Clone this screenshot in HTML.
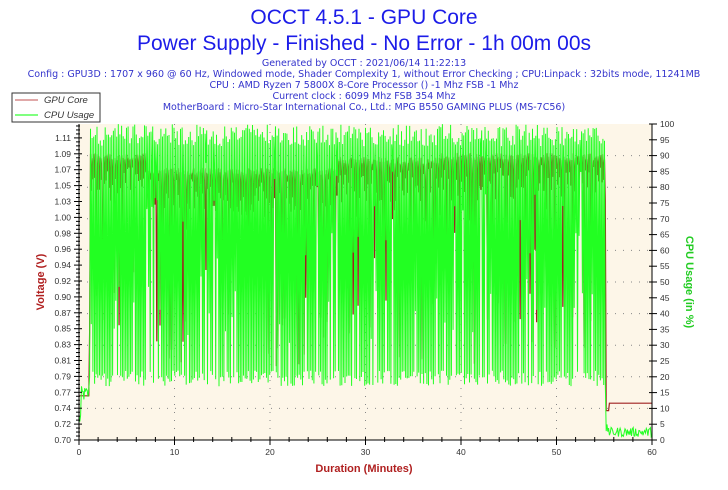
<!DOCTYPE html>
<html><head><meta charset="utf-8"><style>
body{margin:0;background:#fff;width:728px;height:485px;overflow:hidden;font-family:"Liberation Sans","DejaVu Sans",sans-serif}
</style></head><body>
<svg id="s" width="728" height="485" xmlns="http://www.w3.org/2000/svg" font-family="Liberation Sans, DejaVu Sans, sans-serif">
<text x="364" y="24" text-anchor="middle" font-size="21" fill="#1c1ce8">OCCT 4.5.1 - GPU Core</text>
<text x="364" y="50" text-anchor="middle" font-size="21" fill="#1c1ce8">Power Supply - Finished - No Error - 1h 00m 00s</text>
<g font-size="9.5" fill="#3333cc" text-anchor="middle" font-family="DejaVu Sans, sans-serif">
<text x="364" y="66">Generated by OCCT : 2021/06/14 11:22:13</text>
<text x="364" y="77">Config : GPU3D : 1707 x 960 @ 60 Hz, Windowed mode, Shader Complexity 1, without Error Checking ; CPU:Linpack : 32bits mode, 11241MB</text>
<text x="364" y="88">CPU : AMD Ryzen 7 5800X 8-Core Processor () -1 Mhz FSB -1 Mhz</text>
<text x="364" y="99">Current clock : 6099 Mhz FSB 354 Mhz</text>
<text x="364" y="110">MotherBoard : Micro-Star International Co., Ltd.: MPG B550 GAMING PLUS (MS-7C56)</text>
</g>
<rect x="79" y="124" width="573" height="316" fill="#fdf6e8"/>
<g id="grid"></g>
<g id="data"></g>
<rect x="12" y="93" width="88" height="29" fill="#fff" stroke="#333" stroke-width="1"/>
<line x1="15" y1="100" x2="38" y2="100" stroke="#c05050"/>
<line x1="15" y1="115" x2="38" y2="115" stroke="#00ff00"/>
<g font-size="9.5" font-style="italic" fill="#333"><text x="44" y="103">GPU Core</text><text x="44" y="118">CPU Usage</text></g>
<g id="axes" stroke="#000" fill="none"></g>
<g id="lab" font-size="8.5" fill="#333"></g>
<text x="364" y="472" text-anchor="middle" font-size="11" font-weight="bold" fill="#b02020">Duration (Minutes)</text>
<text transform="translate(44,282) rotate(-90)" text-anchor="middle" font-size="11" font-weight="bold" fill="#b02020">Voltage (V)</text>
<text transform="translate(686,282) rotate(90)" text-anchor="middle" font-size="11" font-weight="bold" fill="#22cc22">CPU Usage (in %)</text>
</svg>
<script>
var NS="http://www.w3.org/2000/svg";
function el(p,t,a,txt){var e=document.createElementNS(NS,t);for(var k in a)e.setAttribute(k,a[k]);if(txt!=null)e.textContent=txt;document.getElementById(p).appendChild(e);return e;}
var L=79,R=652,T=124,B=440;
function X(m){return L+(R-L)*m/60;}
function YP(p){return B-(B-T)*p/100;}
function YV(v){return B-(v-0.70)/0.0216*15.9;}
for(var p=10;p<100;p+=10)el("grid","line",{x1:L,x2:R,y1:YP(p),y2:YP(p),stroke:"#888","stroke-dasharray":"1,7","stroke-width":1});
for(var m=10;m<60;m+=10)el("grid","line",{x1:X(m),x2:X(m),y1:T,y2:B,stroke:"#888","stroke-dasharray":"1,7","stroke-width":1});
var seed=12345;function rnd(){seed=(seed*1103515245+12345)%2147483648;return seed/2147483648;}
var g=[],r=[];
var N=700;
for(var i=0;i<=N;i++){var m=60*i/N,c,v;
 if(m<0.2){c=4+rnd()*6;v=0.76;}
 else if(m<1.1){c=12+rnd()*5;v=0.76;}
 else if(m<55.2){
  if(i%2==0){c=93+rnd()*7;}else{c=rnd()<0.8?17+rnd()*5:30+rnd()*60;}
  var base=(m>7&&m<28)?1.06:1.08;
  if(m>27&&m<38)base=1.075;
  v=(i%2==0)?base+rnd()*0.01:(rnd()<0.3?0.80+rnd()*0.22:base-0.005-rnd()*0.05);
 }
 else if(m<55.5){c=2+rnd()*3;v=0.74;}
 else{c=1+rnd()*3;v=0.75;}
 g.push(X(m).toFixed(1)+","+YP(c).toFixed(1));r.push(X(m).toFixed(1)+","+YV(v).toFixed(1));}
el("data","polyline",{points:r.join(" "),fill:"none",stroke:"#a02020","stroke-width":1.2});
el("data","polyline",{points:g.join(" "),fill:"none",stroke:"#22ff22","stroke-width":1});
el("axes","line",{x1:L,x2:L,y1:T,y2:B+4});el("axes","line",{x1:R,x2:R,y1:T,y2:B+4});el("axes","line",{x1:L-4,x2:R+4,y1:B,y2:B});
var vl=["0.70","0.72","0.74","0.77","0.79","0.81","0.83","0.85","0.87","0.90","0.92","0.94","0.96","0.98","1.00","1.03","1.05","1.07","1.09","1.11"];
for(var k=0;k<vl.length;k++){var y=B-k*15.9;el("axes","line",{x1:L-5,x2:L+3,y1:y,y2:y});el("lab","text",{x:L-8,y:y+3,"text-anchor":"end"},vl[k]);
 for(var j=1;j<4;j++){var yy=y-j*15.9/4;if(yy>T)el("axes","line",{x1:L-3,x2:L+1,y1:yy,y2:yy});}}
for(var p=0;p<=100;p+=5){var y=YP(p);el("axes","line",{x1:R-3,x2:R+5,y1:y,y2:y});el("lab","text",{x:R+8,y:y+3},String(p));}
for(var m=0;m<=60;m+=2){var x=X(m);el("axes","line",{x1:x,x2:x,y1:B-3,y2:B+(m%10==0?5:2)});if(m%10==0)el("lab","text",{x:x,y:B+15,"text-anchor":"middle"},String(m));}
</script>
</body></html>
